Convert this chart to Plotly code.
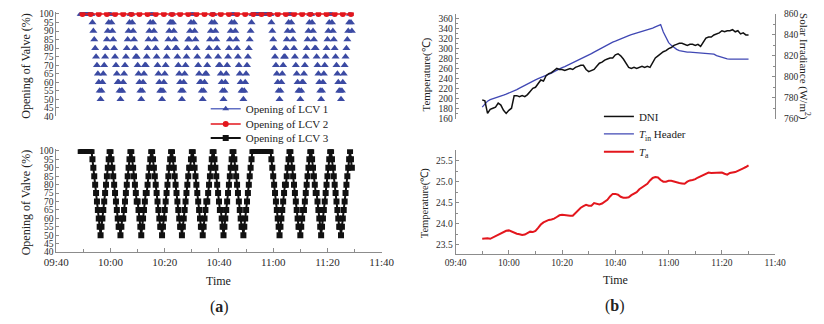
import pandas as pd
import plotly.graph_objects as go

# ---------------- data ----------------
# Valve openings (%) logged every 20 s starting 09:49:00
lcv1_open = [
    100, 100, 100, 100, 100, 100, 100, 100, 100, 100, 100, 100, 100,
    95, 90, 85, 80, 75, 70, 65, 60, 55, 50,
    55, 60, 65, 70, 75, 80, 85, 90, 95, 100, 100, 95, 90, 85, 80, 75, 70, 65, 60, 60, 55, 50,
    55, 55, 60, 65, 70, 75, 80, 85, 90, 95, 100, 100, 95, 90, 85, 80, 75, 75, 70, 65, 60, 55, 50,
    55, 60, 65, 70, 70, 75, 80, 85, 90, 95, 100, 100, 95, 90, 85, 80, 75, 70, 65, 60, 55, 55, 50,
    55, 60, 65, 70, 75, 80, 85, 90, 95, 95, 100, 95, 90, 85, 80, 80, 75, 70, 65, 60, 55, 50,
    55, 60, 65, 70, 75, 80, 85, 85, 90, 95, 100, 100, 95, 90, 85, 80, 75, 70, 65, 60, 60, 55, 50,
    55, 60, 65, 65, 70, 75, 80, 85, 90, 95, 100, 100, 95, 90, 85, 80, 75, 70, 70, 65, 60, 55, 50,
    55, 60, 65, 70, 75, 80, 85, 90, 95, 100, 100, 95, 90, 85, 80, 75, 70, 65, 60, 55, 55, 50,
    55, 60, 65, 70, 75, 80, 85, 90, 95,
    100, 100, 100, 100, 100, 100, 100, 100, 100, 100, 100,
    100, 100, 100, 100, 100, 100, 100, 100, 100, 100,
    95, 90, 85, 80, 75, 70, 65, 60, 55, 50,
    55, 60, 65, 70, 75, 75, 80, 85, 90, 95, 100, 100, 95, 90, 85, 80, 75, 70, 65, 60, 55, 55, 50,
    55, 60, 60, 65, 70, 75, 80, 85, 90, 95, 100, 100, 95, 90, 85, 80, 80, 75, 70, 65, 60, 55, 50,
    55, 60, 65, 70, 75, 80, 85, 90, 95, 100, 100, 95, 90, 85, 80, 75, 70, 65, 60, 55, 55, 50,
    55, 60, 65, 70, 75, 80, 85, 90, 95, 100, 95, 90,
]
lcv3_open = [
    100, 100, 100, 100, 100, 100, 100, 100, 100, 100, 100, 100, 100,
    95, 90, 85, 80, 75, 70, 65, 60, 55, 50,
    55, 60, 65, 70, 75, 80, 85, 90, 95, 100, 100, 95, 90, 85, 80, 75, 70, 65, 60, 55, 55, 50,
    55, 60, 60, 65, 70, 75, 80, 85, 90, 95, 100, 100, 95, 90, 85, 80, 75, 70, 70, 65, 60, 55, 50,
    55, 60, 65, 70, 75, 75, 80, 85, 90, 95, 100, 100, 95, 90, 85, 80, 75, 70, 65, 60, 55, 55, 50,
    55, 60, 65, 70, 75, 80, 85, 90, 95, 100, 100, 95, 90, 85, 80, 75, 70, 65, 60, 55, 55, 50,
    55, 60, 65, 70, 75, 80, 85, 90, 90, 95, 100, 100, 95, 90, 85, 80, 75, 70, 65, 60, 55, 55, 50,
    55, 60, 65, 70, 70, 75, 80, 85, 90, 95, 100, 100, 95, 90, 85, 80, 75, 70, 65, 65, 60, 55, 50,
    55, 60, 65, 70, 75, 80, 85, 90, 95, 100, 100, 95, 90, 85, 80, 75, 70, 65, 60, 55, 55, 50,
    55, 60, 65, 70, 75, 80, 85, 90, 95,
    100, 100, 100, 100, 100, 100, 100, 100, 100, 100, 100,
    100, 100, 100, 100, 100, 100, 100, 100, 100, 100,
    95, 90, 85, 80, 75, 70, 65, 60, 55, 50,
    55, 60, 65, 70, 75, 80, 80, 85, 90, 95, 100, 100, 95, 90, 85, 80, 75, 70, 65, 60, 55, 55, 50,
    55, 60, 65, 65, 70, 75, 80, 85, 90, 95, 100, 100, 95, 90, 85, 80, 75, 75, 70, 65, 60, 55, 50,
    55, 60, 65, 70, 75, 80, 85, 90, 95, 100, 100, 95, 90, 85, 80, 75, 70, 65, 60, 55, 55, 50,
    55, 60, 65, 70, 75, 80, 85, 90, 95, 100, 95, 90,
]
# LCV 2 stays fully open; readings every 3 min from 09:49:40
lcv2_open = [
    100, 100, 100, 100, 100, 100, 100, 100, 100, 100, 100, 100,
    100, 100, 100, 100, 100, 100, 100, 100, 100, 100, 100, 100,
    100, 100, 100, 100, 100, 100, 100, 100, 100, 100,
]

# Field measurements, one per minute from 09:50 to 11:30
dni = [
    778, 777, 765, 769, 770, 771, 775, 773, 768, 765,
    768, 770, 782, 782, 781, 782, 781, 783, 786, 789,
    790, 793, 797, 796, 801, 803, 804, 806, 808, 807,
    807, 806, 807, 808, 807, 809, 810, 811, 811, 807,
    805, 806, 807, 810, 813, 814, 816, 817, 818, 818,
    821, 822, 820, 817, 813, 809, 808, 809, 808, 809,
    810, 809, 810, 809, 813, 818, 820, 822, 824, 825,
    827, 828, 830, 831, 832, 832, 831, 830, 831, 831,
    830, 831, 829, 833, 837, 838, 838, 840, 841, 842,
    844, 843, 844, 844, 845, 843, 844, 841, 842, 840,
    840,
]
t_in_header = [
    183, 190, 195, 198, 199.5, 201, 203, 205, 207, 209,
    211, 213, 215, 218, 221, 224, 227, 229.5, 232, 235,
    237.5, 240, 242, 244, 246, 248.5, 251, 254, 257, 259.5,
    262, 264, 266.5, 269, 271, 273.5, 276, 279, 282, 284.5,
    287, 290, 293, 296, 299.5, 302, 305, 307.5, 310.5, 313,
    315, 317.5, 319.5, 322, 324, 326, 328, 329.5, 331, 333,
    334.5, 336, 337.5, 339, 341, 343.5, 346, 348, 333, 321,
    312, 306.5, 302, 298.5, 296, 294.5, 293.5, 293, 293, 292.5,
    292.5, 292.5, 292, 292, 291.5, 291, 290, 289, 286, 284,
    282, 280.5, 279.5, 279, 279, 279, 279, 279, 279, 279,
    279,
]
t_ambient = [
    23.64, 23.65, 23.65, 23.64, 23.67, 23.71, 23.74, 23.76, 23.79, 23.83,
    23.84, 23.81, 23.78, 23.76, 23.75, 23.73, 23.74, 23.78, 23.81, 23.80,
    23.83, 23.90, 23.98, 24.03, 24.07, 24.09, 24.10, 24.12, 24.16, 24.20,
    24.21, 24.20, 24.20, 24.19, 24.19, 24.25, 24.33, 24.38, 24.42, 24.45,
    24.43, 24.43, 24.49, 24.47, 24.46, 24.48, 24.52, 24.57, 24.65, 24.71,
    24.71, 24.69, 24.64, 24.62, 24.62, 24.63, 24.68, 24.71, 24.75, 24.82,
    24.86, 24.90, 24.95, 25.03, 25.09, 25.11, 25.10, 25.04, 25.00, 25.00,
    25.02, 25.02, 25.00, 24.98, 24.97, 24.96, 24.95, 25.00, 25.03, 25.04,
    25.06, 25.10, 25.13, 25.16, 25.20, 25.22, 25.21, 25.21, 25.22, 25.21,
    25.22, 25.19, 25.17, 25.21, 25.22, 25.23, 25.26, 25.30, 25.32, 25.35,
    25.39,
]

valve_time = pd.date_range("2000-01-01 09:49:00", periods=len(lcv1_open), freq="20s")
lcv2_time = pd.date_range("2000-01-01 09:49:40", periods=len(lcv2_open), freq="3min")
field_time = pd.date_range("2000-01-01 09:50:00", periods=len(dni), freq="1min")

# ---------------- styling ----------------
W, H = 824, 324
SERIF = "Liberation Serif, Times New Roman, serif"
AXIS_GREY = "#8c8c8c"
TICK_TEXT = "#2b2b2b"
BLUE = "#3b4aa3"
LIGHT_BLUE = "#6270c4"
RED = "#e3161d"
X_RANGE = ["2000-01-01 09:40:00", "2000-01-01 11:40:00"]


def px_x(x):
    return x / W


def px_y(y):
    return 1 - y / H


fig = go.Figure()

# LCV 1: the samples are shown as bare triangles; its legend key carries the line
fig.add_trace(go.Scatter(
    x=valve_time, y=lcv1_open, name="Opening of LCV 1", mode="markers",
    marker=dict(symbol="triangle-up", size=7, color=BLUE),
    xaxis="x", yaxis="y", legend="legend", showlegend=False,
))
fig.add_trace(go.Scatter(
    x=[None], y=[None], name="Opening of LCV 1", mode="lines+markers",
    line=dict(color=LIGHT_BLUE, width=1.5),
    marker=dict(symbol="triangle-up", size=6, color=BLUE),
    xaxis="x", yaxis="y", legend="legend", showlegend=True,
))
fig.add_trace(go.Scatter(
    x=lcv2_time, y=lcv2_open, name="Opening of LCV 2", mode="lines+markers",
    line=dict(color=RED, width=1.5),
    marker=dict(symbol="circle", size=6, color=RED),
    xaxis="x", yaxis="y", legend="legend2",
))
fig.add_trace(go.Scatter(
    x=valve_time, y=lcv3_open, name="Opening of LCV 3", mode="lines+markers",
    line=dict(color="#111111", width=2),
    marker=dict(symbol="square", size=6, color="#111111"),
    xaxis="x2", yaxis="y2", legend="legend3",
))
fig.add_trace(go.Scatter(
    x=field_time, y=t_in_header, name="<i>T</i><sub>in</sub> Header", mode="lines",
    line=dict(color="#4048b4", width=1.3),
    xaxis="x3", yaxis="y3", legend="legend5",
))
fig.add_trace(go.Scatter(
    x=field_time, y=dni, name="DNI", mode="lines",
    line=dict(color="#111111", width=1.5),
    xaxis="x3", yaxis="y4", legend="legend4",
))
fig.add_trace(go.Scatter(
    x=field_time, y=t_ambient, name="<i>T</i><sub>a</sub>", mode="lines",
    line=dict(color=RED, width=2),
    xaxis="x4", yaxis="y5", legend="legend6",
))

tick_font_l = dict(family=SERIF, size=9.5, color=TICK_TEXT)
tick_font_r = dict(family=SERIF, size=9.5, color=TICK_TEXT)

y_common = dict(showline=True, linecolor=AXIS_GREY, linewidth=1, ticks="inside",
                tickcolor=AXIS_GREY, ticklen=3, showgrid=False, zeroline=False)
x_time = dict(type="date", range=X_RANGE, tickformat="%H:%M", dtick=20 * 60 * 1000,
              tick0="2000-01-01 09:40:00", showline=True, linecolor=AXIS_GREY,
              linewidth=1, ticks="inside", ticklen=4, tickcolor=AXIS_GREY,
              showgrid=False, zeroline=False,
              minor=dict(dtick=10 * 60 * 1000, ticks="inside", ticklen=3,
                         tickcolor=AXIS_GREY, showgrid=False))

left_x = [px_x(44.7), px_x(380.7)]
right_x = [px_x(457), px_x(787)]

valve_ticks = list(range(40, 101, 5))

fig.update_layout(
    width=W, height=H, margin=dict(l=0, r=0, t=0, b=0),
    paper_bgcolor="white", plot_bgcolor="rgba(0,0,0,0)",
    font=dict(family=SERIF, color="#222222"),
    showlegend=True,
    xaxis=dict(domain=left_x, anchor="y", type="date", range=X_RANGE, visible=False),
    yaxis=dict(domain=[px_y(115), px_y(7.5)], range=[40, 101], tickvals=valve_ticks,
               tickfont=tick_font_l, anchor="x", **y_common),
    xaxis2=dict(domain=left_x, anchor="y2", tickfont=dict(family=SERIF, size=11, color=TICK_TEXT),
                **x_time),
    yaxis2=dict(domain=[px_y(255), px_y(148.8)], range=[40, 101], tickvals=valve_ticks,
                tickfont=tick_font_l, anchor="x2", **y_common),
    xaxis3=dict(domain=right_x, anchor="y3", type="date", range=X_RANGE, visible=False),
    yaxis3=dict(domain=[px_y(117.3), px_y(9.3)], range=[160, 369.1], dtick=20, tick0=160,
                tickfont=tick_font_r, anchor="x3",
                minor=dict(dtick=10, ticks="inside", ticklen=2, tickcolor=AXIS_GREY),
                **y_common),
    yaxis4=dict(range=[760, 860], dtick=20, tick0=760, side="right", overlaying="y3",
                anchor="x3", tickfont=tick_font_r, ticklabelstandoff=6,
                minor=dict(dtick=10, ticks="inside", ticklen=2, tickcolor=AXIS_GREY),
                **y_common),
    xaxis4=dict(domain=right_x, anchor="y5", tickfont=dict(family=SERIF, size=9.5, color=TICK_TEXT),
                **x_time),
    yaxis5=dict(domain=[px_y(257), px_y(149.3)], range=[23.276, 25.763], dtick=0.5,
                tick0=23.5, tickformat=".1f", tickfont=tick_font_r, anchor="x4",
                minor=dict(dtick=0.25, ticks="inside", ticklen=2, tickcolor=AXIS_GREY),
                **y_common),
)

# one small legend per entry so the entries can sit close together
legend_font = dict(family=SERIF, size=11, color="#222222")


def legend_box(xp, yp):
    return dict(x=px_x(xp), y=px_y(yp), xanchor="left", yanchor="middle",
                bgcolor="rgba(0,0,0,0)", borderwidth=0, font=legend_font,
                itemwidth=30, tracegroupgap=0)


fig.update_layout(
    legend=legend_box(199, 107),
    legend2=legend_box(199, 122.7),
    legend3=legend_box(199, 137.3),
    legend4=legend_box(605, 115),
    legend5=legend_box(605, 133),
    legend6=legend_box(605, 151.5),
)

notes = [
    dict(text="Opening of Valve (%)", x=px_x(13), y=px_y(63), textangle=-90),
    dict(text="Opening of Valve (%)", x=px_x(13), y=px_y(204), textangle=-90),
    dict(text="Time", x=px_x(212.5), y=px_y(284.3)),
    dict(text="(<b>a</b>)", x=px_x(213), y=px_y(311.5), size=16),
    dict(text="Temperature(℃)", x=px_x(426.7), y=px_y(71.5), textangle=-90, size=11),
    dict(text="Solar Irradiance (W/m<sup>2</sup>)", x=px_x(817.3), y=px_y(63.5),
         textangle=90, size=11),
    dict(text="Temperature(℃)", x=px_x(425), y=px_y(205), textangle=-90, size=10.5),
    dict(text="Time", x=px_x(622.5), y=px_y(283.5)),
    dict(text="(<b>b</b>)", x=px_x(621.7), y=px_y(310.5), size=16),
]
for n in notes:
    fig.add_annotation(
        text=n["text"], x=n["x"], y=n["y"], xref="paper", yref="paper",
        xanchor="center", yanchor="middle", showarrow=False,
        textangle=n.get("textangle", 0),
        font=dict(family=SERIF, size=n.get("size", 12), color="#222222"),
    )

fig.write_html("out.html")
